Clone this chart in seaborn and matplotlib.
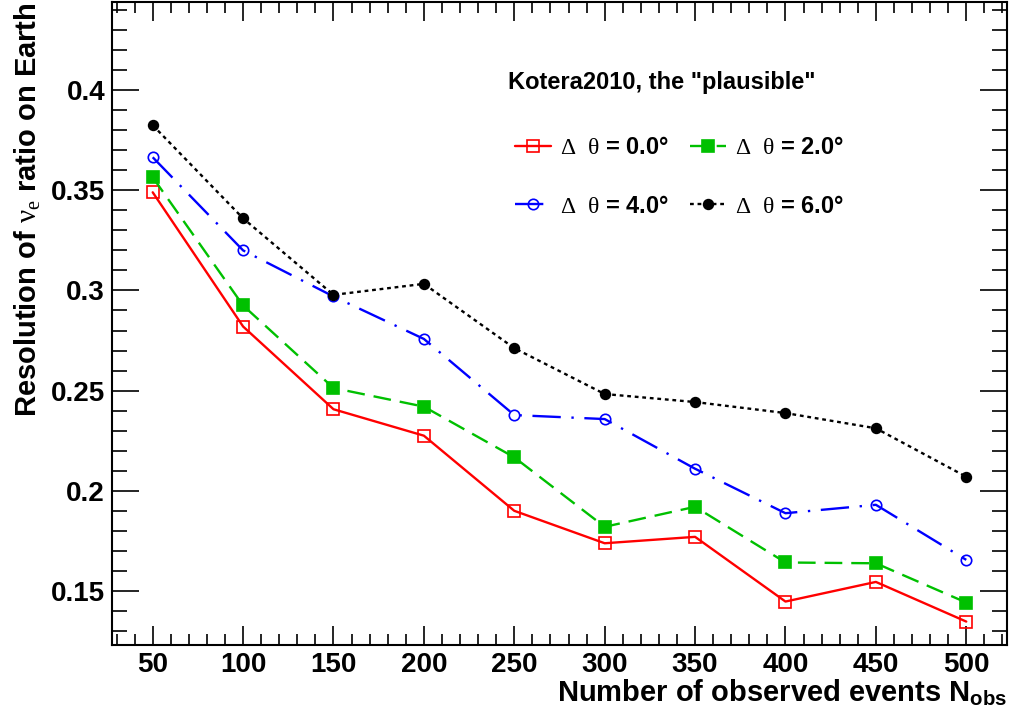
import numpy as np
import pandas as pd
import matplotlib
matplotlib.use("Agg")
import matplotlib.pyplot as plt
from matplotlib.ticker import MultipleLocator
import seaborn as sns

# ---- data ----
n_obs = [50, 100, 150, 200, 250, 300, 350, 400, 450, 500]
res_0deg = [0.349, 0.282, 0.2407, 0.2275, 0.190, 0.1738, 0.177, 0.1447, 0.1545, 0.1347]
res_2deg = [0.3565, 0.2925, 0.2513, 0.242, 0.2167, 0.182, 0.192, 0.1642, 0.1638, 0.1442]
res_4deg = [0.3665, 0.320, 0.297, 0.2758, 0.2378, 0.2358, 0.2110, 0.1888, 0.193, 0.1655]
res_6deg = [0.3825, 0.336, 0.2978, 0.3033, 0.2712, 0.2483, 0.2443, 0.2388, 0.2312, 0.207]
labels = [r"$\mathrm{\Delta\ \ \theta}$ = 0.0°", r"$\mathrm{\Delta\ \ \theta}$ = 2.0°",
          r"$\mathrm{\Delta\ \ \theta}$ = 4.0°", r"$\mathrm{\Delta\ \ \theta}$ = 6.0°"]
legend_title = 'Kotera2010, the "plausible"'
x_label = r"Number of observed events $\mathbf{N}_{\mathbf{obs}}$"
y_label = r"Resolution of $\nu_{e}$ ratio on Earth"

sns.set_theme(style="ticks")
plt.rcParams["font.family"] = ["Liberation Sans", "DejaVu Sans"]
plt.rcParams["font.weight"] = "bold"
plt.rcParams["text.color"] = "black"
plt.rcParams["axes.labelcolor"] = "black"
plt.rcParams["xtick.color"] = "black"
plt.rcParams["ytick.color"] = "black"
plt.rcParams["mathtext.fontset"] = "custom"
plt.rcParams["mathtext.rm"] = "Liberation Serif:weight=normal"
plt.rcParams["mathtext.it"] = "Liberation Serif:weight=normal"
plt.rcParams["mathtext.bf"] = "Liberation Sans:bold"

fig = plt.figure(figsize=(10.12, 7.19), dpi=100)
ax = fig.add_axes([0.1107, 0.1029, 0.995 - 0.1107, 0.9972 - 0.1029])

series = [res_0deg, res_2deg, res_4deg, res_6deg]
colors = ["#ff0000", "#00c000", "#0000ff", "#000000"]
markers = ["s", "s", "o", "o"]
mfc = ["none", "#00c000", "none", "#000000"]
msizes = [8, 8, 7.5, 7]
dashes = [None, (7.5, 3.8), (12, 4.5, 1, 4.5), (1.6, 1.6)]

for vals, lab, c, m, fc, ms, d in zip(series, labels, colors, markers, mfc, msizes, dashes):
    df = pd.DataFrame({"N": n_obs, "res": vals})
    sns.lineplot(data=df, x="N", y="res", ax=ax, color=c, marker=m,
                 markersize=ms, markerfacecolor=fc, markeredgecolor=c,
                 markeredgewidth=1.2, linewidth=1.7, label=lab)
    l = ax.get_lines()[-1]
    if d is not None:
        l.set_dashes(d)

ax.set_xlim(27.5, 522.5)
ax.set_ylim(0.123, 0.444)
ax.xaxis.set_major_locator(MultipleLocator(50))
ax.xaxis.set_minor_locator(MultipleLocator(10))
ax.yaxis.set_minor_locator(MultipleLocator(0.01))
ax.set_yticks([0.15, 0.2, 0.25, 0.3, 0.35, 0.4])
ax.set_yticklabels(["0.15", "0.2", "0.25", "0.3", "0.35", "0.4"])

ax.tick_params(axis="both", which="both", direction="in", top=True, right=True,
               colors="black", width=1.2)
ax.tick_params(axis="x", which="major", length=13.5, labelsize=20, pad=5)
ax.tick_params(axis="x", which="minor", length=8)
ax.tick_params(axis="y", which="major", length=19.5, labelsize=20, pad=5)
ax.tick_params(axis="y", which="minor", length=11)
for lbl in ax.get_xticklabels() + ax.get_yticklabels():
    lbl.set_fontweight("bold")
for s in ax.spines.values():
    s.set_linewidth(1.5)
    s.set_color("black")

ax.set_xlabel(x_label, fontsize=21, fontweight="bold", loc="right", labelpad=0)
ax.set_ylabel(y_label, fontsize=21, fontweight="bold", loc="top", labelpad=6)

ax.text(0.6145, 0.8756, legend_title, transform=ax.transAxes, ha="center", va="center",
        fontsize=17, fontweight="bold")
handles, labs = ax.get_legend_handles_labels()
order = [0, 2, 1, 3]
ax.legend([handles[i] for i in order], [labs[i] for i in order],
          loc="upper left", bbox_to_anchor=(0.440, 0.806), ncol=2, frameon=False,
          prop={"size": 17, "weight": "bold"}, handlelength=1.5, handletextpad=0.4,
          columnspacing=0.9, labelspacing=1.5, borderaxespad=0)

fig.savefig("out.png", dpi=100)
